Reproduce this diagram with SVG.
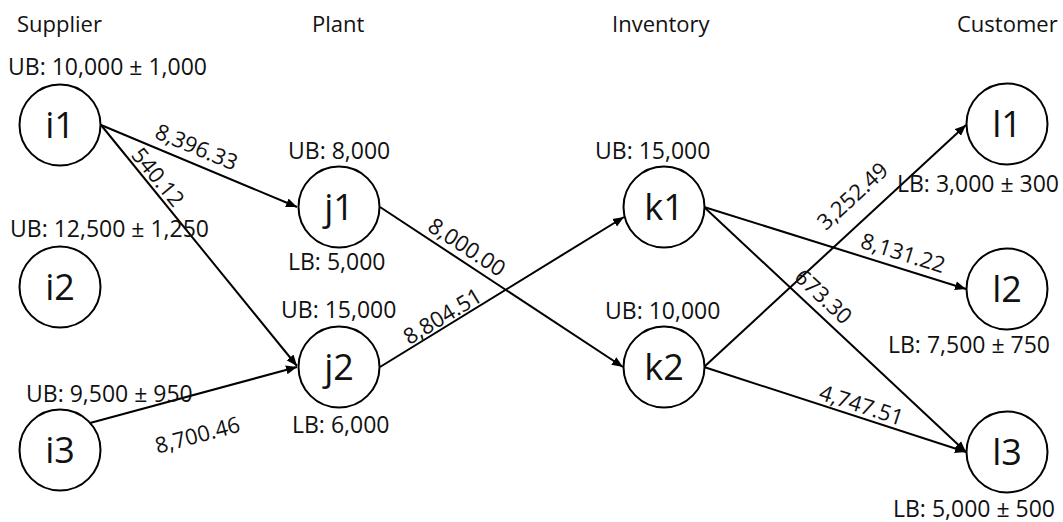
<svg xmlns="http://www.w3.org/2000/svg" width="1063" height="522" viewBox="0 0 1063 522">
<style>
.node{fill:#fff;stroke:#000;stroke-width:2}
.name{font-family:"Open Sans","Liberation Sans",sans-serif;font-size:36px;fill:#111;text-anchor:middle}
.bound{font-family:"Open Sans","Liberation Sans",sans-serif;font-size:23px;fill:#111}
.head{font-family:"Open Sans","Liberation Sans",sans-serif;font-size:22px;fill:#111}
.elab{font-family:"Open Sans","Liberation Sans",sans-serif;font-size:22px;fill:#111;text-anchor:middle}
.edge{stroke:#000;stroke-width:2;fill:none;marker-end:url(#arr)}
</style>
<defs>
<marker id="arr" markerUnits="userSpaceOnUse" markerWidth="12" markerHeight="10" refX="11" refY="5" orient="auto">
<path d="M0,0.5 L11,5 L0,9.5 Z" fill="#000"/>
</marker>
</defs>
<rect width="1063" height="522" fill="#fff"/>
<g id="headers">
<text class="head" x="17" y="32">Supplier</text>
<text class="head" x="312" y="32">Plant</text>
<text class="head" x="612" y="32">Inventory</text>
<text class="head" x="957" y="32">Customer</text>
</g>
<g id="connectors">
<line class="edge" x1="101" y1="125" x2="297" y2="207"/>
<line class="edge" x1="101" y1="125" x2="297" y2="366"/>
<line class="edge" x1="90" y1="423" x2="297" y2="367"/>
<line class="edge" x1="380" y1="207" x2="623" y2="367"/>
<line class="edge" x1="380" y1="367" x2="624" y2="217"/>
<line class="edge" x1="704" y1="207" x2="966" y2="289"/>
<line class="edge" x1="704" y1="207" x2="966" y2="452"/>
<line class="edge" x1="704" y1="367" x2="966" y2="125"/>
<line class="edge" x1="704" y1="367" x2="966" y2="452"/>
<text class="elab" transform="translate(193.5,154.2) rotate(22.7)">8,396.33</text>
<text class="elab" transform="translate(152,182) rotate(50.8)">540.12</text>
<text class="elab" transform="translate(199.5,442.5) rotate(-15)">8,700.46</text>
<text class="elab" transform="translate(462.7,253.5) rotate(33.3)">8,000.00</text>
<text class="elab" transform="translate(446.5,322.7) rotate(-31.2)">8,804.51</text>
<text class="elab" transform="translate(900.7,260.4) rotate(17.3)">8,131.22</text>
<text class="elab" transform="translate(818.2,302.2) rotate(43)">673.30</text>
<text class="elab" transform="translate(857.8,201.7) rotate(-42.7)">3,252.49</text>
<text class="elab" transform="translate(859.1,412.4) rotate(17.9)">4,747.51</text>
</g>
<g id="i1"><circle class="node" cx="60" cy="125" r="40.5"/><text class="name" x="60" y="137.5">i1</text><text class="bound" x="8" y="75">UB: 10,000 ± 1,000</text></g>
<g id="i2"><circle class="node" cx="60" cy="287" r="40.5"/><text class="name" x="60" y="299.5">i2</text><text class="bound" x="10" y="237">UB: 12,500 ± 1,250</text></g>
<g id="i3"><circle class="node" cx="60" cy="450" r="40.5"/><text class="name" x="60" y="462.5">i3</text><text class="bound" x="26" y="402">UB: 9,500 ± 950</text></g>
<g id="j1"><circle class="node" cx="339" cy="207" r="40.5"/><text class="name" x="339" y="219.5">j1</text><text class="bound" x="288" y="159">UB: 8,000</text><text class="bound" x="288" y="270">LB: 5,000</text></g>
<g id="j2"><circle class="node" cx="339" cy="367" r="40.5"/><text class="name" x="339" y="379.5">j2</text><text class="bound" x="281" y="318">UB: 15,000</text><text class="bound" x="292" y="433">LB: 6,000</text></g>
<g id="k1"><circle class="node" cx="664" cy="207" r="40.5"/><text class="name" x="664" y="219.5">k1</text><text class="bound" x="595" y="159">UB: 15,000</text></g>
<g id="k2"><circle class="node" cx="664" cy="367" r="40.5"/><text class="name" x="664" y="379.5">k2</text><text class="bound" x="605" y="319">UB: 10,000</text></g>
<g id="l1"><circle class="node" cx="1007" cy="124" r="40.5"/><text class="name" x="1007" y="136.5">l1</text><text class="bound" x="897" y="192">LB: 3,000 ± 300</text></g>
<g id="l2"><circle class="node" cx="1007" cy="289" r="40.5"/><text class="name" x="1007" y="301.5">l2</text><text class="bound" x="888" y="353">LB: 7,500 ± 750</text></g>
<g id="l3"><circle class="node" cx="1007" cy="452" r="40.5"/><text class="name" x="1007" y="464.5">l3</text><text class="bound" x="893" y="517">LB: 5,000 ± 500</text></g>
</svg>
